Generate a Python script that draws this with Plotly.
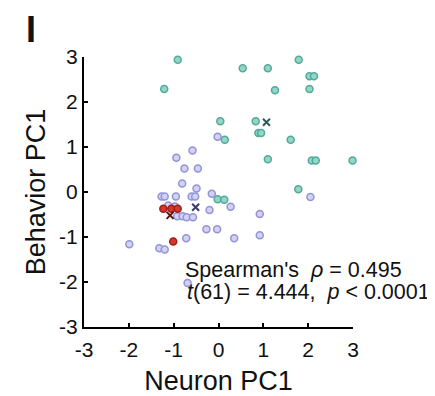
import plotly.graph_objects as go

# ---- data ----
teal_x = [-0.91, -1.21, 0.04, 0.54, 1.10, 1.79, 2.03, 2.13, 1.26, 2.03, 0.83, 0.89, 0.95,
          0.14, 1.61, 1.10, 2.08, 2.17, 2.99, -0.02, 0.13, 1.78]
teal_y = [2.94, 2.29, 1.57, 2.75, 2.75, 2.94, 2.57, 2.57, 2.26, 2.29, 1.57, 1.31, 1.31,
          1.16, 1.16, 0.73, 0.70, 0.70, 0.70, -0.16, -0.17, 0.06]

purple_x = [-0.02, -0.58, -0.94, -0.76, -0.46, -0.81, -0.49, -1.27, -1.20, -0.95, -0.60, -0.52,
            -0.15, -0.92, -0.80, -0.71, -0.57, -0.20, 0.27, -0.27, -0.03, 0.35, 0.92, 0.92,
            2.05, -1.99, -1.32, -1.20, -0.72, -0.69, -0.97, -1.12]
purple_y = [1.23, 0.92, 0.76, 0.52, 0.52, 0.19, 0.08, -0.10, -0.10, -0.10, -0.10, -0.10,
            -0.04, -0.54, -0.54, -0.56, -0.56, -0.40, -0.33, -0.83, -0.83, -1.03, -0.49, -0.96,
            -0.11, -1.16, -1.25, -1.28, -1.03, -2.02, -0.32, -0.30]

red_x = [-1.23, -1.05, -0.91, -1.01]
red_y = [-0.37, -0.37, -0.37, -1.10]

mean_x = [1.07, -0.51, -1.08]
mean_y = [1.55, -0.34, -0.52]
mean_colors = ["#2e5e58", "#3b3b72", "#5c1010"]

tick_vals = [-3, -2, -1, 0, 1, 2, 3]
tick_text = ["-3", "-2", "-1", "0", "1", "2", "3"]

FONT = "Liberation Sans, Arial, Helvetica, sans-serif"

# page body has an 8px margin; geometry below is in window pixels
OFF = 8
W, H = 435 - OFF, 396 - OFF
L, R, T, B = 84 - OFF, 353 - OFF, 57 - OFF, 327 - OFF

fig = go.Figure()

def dots(x, y, fill, edge):
    fig.add_trace(go.Scatter(
        x=x, y=y, mode="markers", cliponaxis=False, showlegend=False,
        marker=dict(size=7, color=fill, line=dict(color=edge, width=1.5)),
    ))

dots(teal_x, teal_y, "#96d4c6", "#4fac9a")
dots(purple_x, purple_y, "#d2d2f4", "#9393d6")
dots(red_x, red_y, "#d8352b", "#a01d16")

fig.add_trace(go.Scatter(
    x=mean_x, y=mean_y, mode="markers", cliponaxis=False, showlegend=False,
    marker=dict(symbol="x-thin", size=7, line=dict(color=mean_colors, width=2)),
))

axis_common = dict(
    range=[-3, 3], tickvals=tick_vals, ticktext=tick_text,
    showgrid=False, zeroline=False, showline=True, linecolor="black", linewidth=2,
    ticks="inside", ticklen=4, tickwidth=1.5, tickcolor="black",
    tickfont=dict(family=FONT, size=21, color="#111"),
    mirror=False, automargin=False,
)

fig.update_layout(
    width=W, height=H, autosize=False,
    margin=dict(l=L, r=W - R, t=T, b=H - B),
    plot_bgcolor="white", paper_bgcolor="white",
    xaxis=dict(**axis_common, ticklabelstandoff=3,
               title=dict(text="Neuron PC1",
                          font=dict(family=FONT, size=27, color="#111"), standoff=12)),
    yaxis=dict(**axis_common, ticklabelstandoff=0,
               title=dict(text="Behavior PC1",
                          font=dict(family=FONT, size=27, color="#111"), standoff=6)),
)

def px_x(p):
    return (p - OFF - L) / (R - L)

def px_y(p):
    return (B - (p - OFF)) / (B - T)

fig.add_annotation(text="Spearman's\u00a0\u00a0<i>ρ</i> = 0.495", xref="paper", yref="paper",
                   x=px_x(183), y=px_y(270), xanchor="left", yanchor="middle",
                   showarrow=False, font=dict(family=FONT, size=21.5, color="#111"))
fig.add_annotation(text="<i>t</i>(61) = 4.444,\u00a0\u00a0<i>p</i> < 0.0001", xref="paper", yref="paper",
                   x=px_x(185), y=px_y(292), xanchor="left", yanchor="middle",
                   showarrow=False, font=dict(family=FONT, size=21.5, color="#111"))
fig.add_annotation(text="<b>I</b>", xref="paper", yref="paper",
                   x=px_x(24), y=px_y(29), xanchor="left", yanchor="middle",
                   showarrow=False, font=dict(family=FONT, size=36, color="#111"))

fig.write_html("out.html")
